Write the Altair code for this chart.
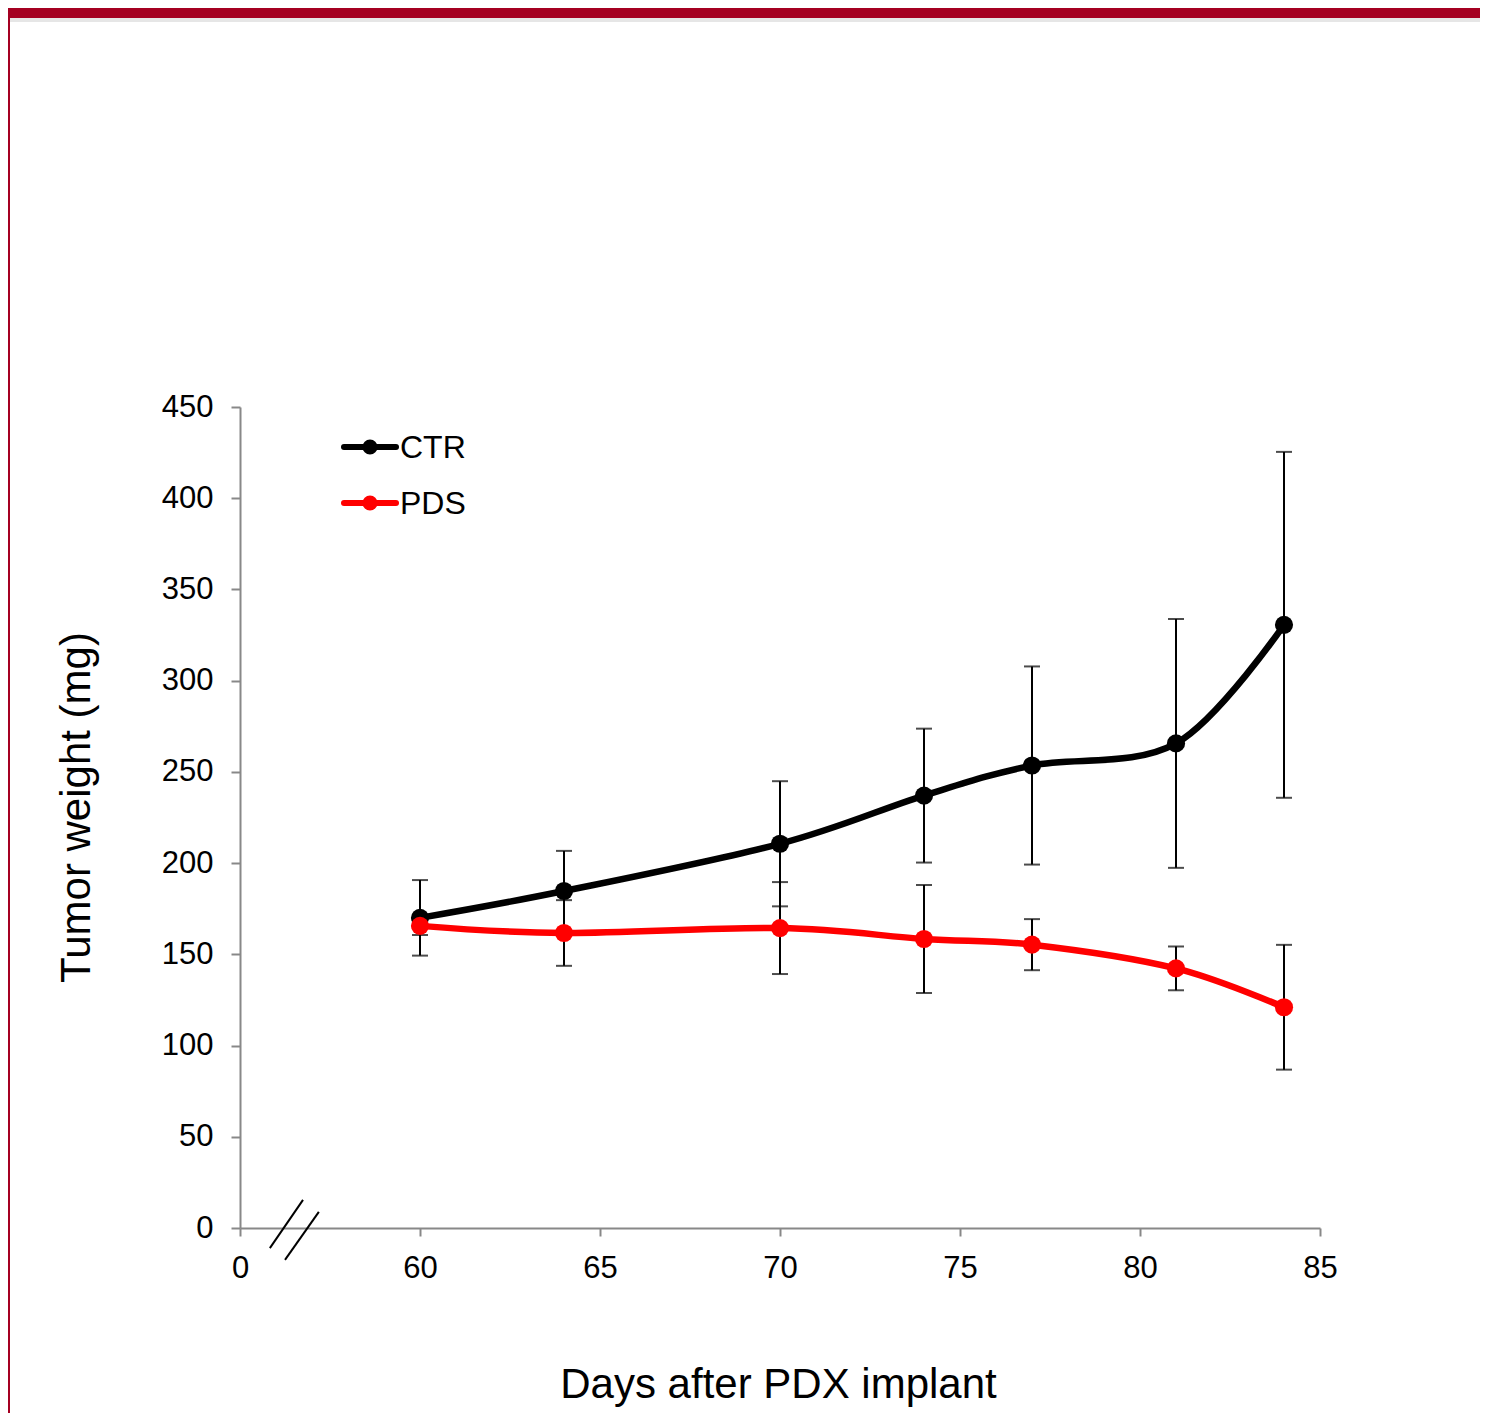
import altair as alt
import pandas as pd

# ---- data ----
days = [60, 64, 70, 74, 77, 81, 84]
ctr_mean = [170.0, 184.7, 210.6, 237.0, 253.5, 265.6, 330.6]
ctr_err = [20.7, 22.0, 34.3, 36.7, 54.3, 68.2, 94.8]
pds_mean = [165.6, 161.7, 164.4, 158.4, 155.3, 142.3, 121.0]
pds_err = [5.0, 18.0, 25.2, 29.6, 14.0, 12.0, 34.2]
groups = ["CTR", "PDS"]
colors = ["#000000", "#ff0000"]
x_ticks = [55, 60, 65, 70, 75, 80, 85]   # 55 is shown as "0" (broken axis)
y_ticks = [0, 50, 100, 150, 200, 250, 300, 350, 400, 450]
# axis-break slashes (in data units)
break_x = [55.83, 56.25]
break_x2 = [56.75, 57.19]
break_y = [-11.0, -17.5]
break_y2 = [15.4, 8.8]

FONT = "Liberation Sans"
W, H = 1080, 821
PAD_L, PAD_T, PAD_R, PAD_B = 232, 399, 160, 185

rows = []
for g, means, errs in [("CTR", ctr_mean, ctr_err), ("PDS", pds_mean, pds_err)]:
    for d, m, e in zip(days, means, errs):
        rows.append({"day": d, "group": g, "mean": m, "lo": m - e, "hi": m + e})
df = pd.DataFrame(rows)

brk = pd.DataFrame({"x": break_x, "x2": break_x2, "y": break_y, "y2": break_y2})

xscale = alt.Scale(domain=[55, 85], nice=False, zero=False)
yscale = alt.Scale(domain=[0, 450], nice=False)
color = alt.Color("group:N", scale=alt.Scale(domain=groups, range=colors), legend=None)

xaxis = alt.Axis(
    values=x_ticks,
    labelExpr="datum.value == 55 ? '0' : datum.label",
    title="Days after PDX implant",
    titleFontSize=42, titleFontWeight="normal", titleFont=FONT, titleColor="#000000",
    titleX=538, titleY=169, titleBaseline="alphabetic", titleAnchor="middle",
    labelFontSize=31, labelFont=FONT, labelColor="#000000", labelPadding=17,
    labelFlush=False, labelOverlap=False,
    tickSize=8, tickColor="#888888", tickWidth=2,
    domainColor="#888888", domainWidth=2, grid=False,
)
yaxis = alt.Axis(
    values=y_ticks,
    title="Tumor weight (mg)",
    titleFontSize=42, titleFontWeight="normal", titleFont=FONT, titleColor="#000000",
    titleX=-151, titleY=400, titleAngle=-90, titleBaseline="alphabetic", titleAlign="center",
    labelFontSize=31, labelFont=FONT, labelColor="#000000", labelPadding=18,
    labelOverlap=False, labelFlush=False,
    tickSize=9, tickColor="#888888", tickWidth=2,
    domainColor="#888888", domainWidth=2, grid=False,
)

base = alt.Chart(df)
X = alt.X("day:Q", scale=xscale, axis=xaxis)
Y = alt.Y("mean:Q", scale=yscale, axis=yaxis)

err_rule = base.mark_rule(color="#000000", strokeWidth=2).encode(
    x=alt.X("day:Q", scale=xscale), y=alt.Y("lo:Q", scale=yscale), y2="hi:Q"
)
cap_lo = base.mark_tick(color="#000000", orient="horizontal", size=16, thickness=2).encode(
    x=alt.X("day:Q", scale=xscale), y=alt.Y("lo:Q", scale=yscale)
)
cap_hi = base.mark_tick(color="#000000", orient="horizontal", size=16, thickness=2).encode(
    x=alt.X("day:Q", scale=xscale), y=alt.Y("hi:Q", scale=yscale)
)

lines = base.mark_line(interpolate="cardinal", tension=0, strokeWidth=6.5, strokeCap="round").encode(
    x=X, y=Y, color=color, order=alt.Order("day:Q")
)
points = base.mark_circle(size=330, opacity=1).encode(
    x=alt.X("day:Q", scale=xscale), y=alt.Y("mean:Q", scale=yscale), color=color
)

ctr_layers = [
    lines.transform_filter("datum.group == 'CTR'"),
    points.transform_filter("datum.group == 'CTR'"),
]
pds_layers = [
    lines.transform_filter("datum.group == 'PDS'"),
    points.transform_filter("datum.group == 'PDS'"),
]

breaks = alt.Chart(brk).mark_rule(color="#000000", strokeWidth=2).encode(
    x=alt.X("x:Q", scale=xscale), x2="x2:Q",
    y=alt.Y("y:Q", scale=yscale), y2="y2:Q",
)

# manual legend (inside plot, top-left)
leg_layers = []
for i, (g, c) in enumerate(zip(groups, colors)):
    yy = 40 + i * 56
    leg_df = pd.DataFrame({"label": [g]})
    lb = alt.Chart(leg_df)
    leg_layers.append(lb.mark_rule(color=c, strokeWidth=6, strokeCap="round").encode(
        x=alt.value(104), x2=alt.value(156), y=alt.value(yy)))
    leg_layers.append(lb.mark_circle(color=c, size=230, opacity=1).encode(
        x=alt.value(130), y=alt.value(yy)))
    leg_layers.append(lb.mark_text(align="left", baseline="middle", fontSize=32, font=FONT,
                                   color="#000000", dy=1).encode(
        x=alt.value(160), y=alt.value(yy), text="label:N"))

# slide frame (top red bar with soft shadow, left edge)
frame_df = pd.DataFrame({"k": [0]})
fb = alt.Chart(frame_df)
frame = [
    fb.mark_rule(color="#e6e6e6", strokeWidth=4).encode(
        x=alt.value(-232), x2=alt.value(1240), y=alt.value(-387)),
    fb.mark_rule(color="#a50021", strokeWidth=10).encode(
        x=alt.value(-232), x2=alt.value(1240), y=alt.value(-394)),
    fb.mark_rule(color="#a50021", strokeWidth=2).encode(
        x=alt.value(-231), y=alt.value(-399), y2=alt.value(1020)),
]

chart = alt.layer(
    err_rule, cap_lo, cap_hi, *ctr_layers, *pds_layers, breaks, *leg_layers, *frame
).properties(
    width=W, height=H,
    padding={"left": PAD_L, "top": PAD_T, "right": PAD_R, "bottom": PAD_B},
    autosize=alt.AutoSizeParams(type="none"),
    background="#ffffff",
).configure_view(stroke=None)

chart.save("out.html", embed_options={"renderer": "svg", "actions": False})
